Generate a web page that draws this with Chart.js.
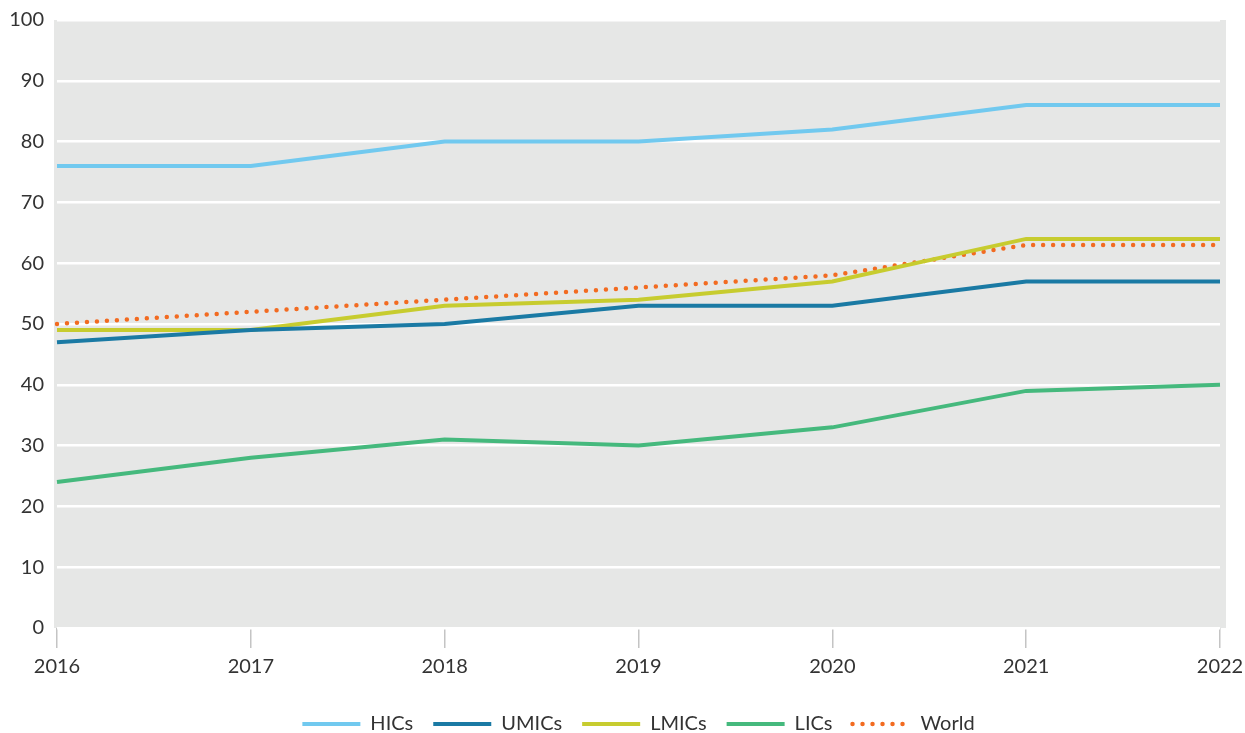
<!DOCTYPE html>
<html>
<head>
<meta charset="utf-8">
<script src="https://cdn.jsdelivr.net/npm/chart.js@4"></script>
<style>
  html, body { margin: 0; padding: 0; background: #fff; }
  #wrap { width: 1245px; height: 733px; }
</style>
</head>
<body>
<div id="wrap"><canvas id="myChart" width="1245" height="733"></canvas></div>
<script>
  // chart data
  const years = ['2016', '2017', '2018', '2019', '2020', '2021', '2022'];
  const hics = [76, 76, 80, 80, 82, 86, 86];
  const umics = [47, 49, 50, 53, 53, 57, 57];
  const lmics = [49, 49, 53, 54, 57, 64, 64];
  const lics = [24, 28, 31, 30, 33, 39, 40];
  const world = [50, 52, 54, 56, 58, 63, 63];
  const yTicks = [0, 10, 20, 30, 40, 50, 60, 70, 80, 90, 100];

  const fontFamily = 'Lato, "Open Sans", sans-serif';
  const textColor = '#333333';

  // grey panel behind the plot, a little wider than the data range
  const plotBackground = {
    id: 'plotBackground',
    beforeDraw(chart) {
      const area = chart.chartArea;
      const ctx = chart.ctx;
      ctx.save();
      ctx.fillStyle = '#e6e7e6';
      ctx.fillRect(area.left - 3, area.top, area.right - area.left + 9, area.bottom - area.top);
      ctx.restore();
    }
  };

  function lineSet(label, data, color) {
    return {
      label: label,
      data: data,
      borderColor: color,
      backgroundColor: color,
      borderWidth: 4,
      pointRadius: 0,
      tension: 0,
      fill: false
    };
  }

  const worldSet = lineSet('World', world, '#f26b21');
  worldSet.borderDash = [0, 10];
  worldSet.borderCapStyle = 'round';
  worldSet.borderWidth = 4.5;

  // legend entries: keep the line width and the dotted style of each dataset
  function legendLabels(chart) {
    const items = Chart.defaults.plugins.legend.labels.generateLabels(chart);
    items.forEach(item => {
      const ds = chart.data.datasets[item.datasetIndex];
      item.lineWidth = ds.borderWidth;
      item.lineDash = ds.borderDash || [];
      item.lineCap = ds.borderCapStyle || 'butt';
      item.strokeStyle = ds.borderColor;
    });
    return items;
  }

  const ctx = document.getElementById('myChart').getContext('2d');
  new Chart(ctx, {
    type: 'line',
    data: {
      labels: years,
      datasets: [
        lineSet('HICs', hics, '#71c9ef'),
        lineSet('UMICs', umics, '#1a7aa4'),
        lineSet('LMICs', lmics, '#c7cc2f'),
        lineSet('LICs', lics, '#45b97d'),
        worldSet
      ]
    },
    options: {
      responsive: false,
      animation: false,
      layout: { padding: { left: 0, right: 25, top: 20, bottom: -11 } },
      scales: {
        x: {
          offset: false,
          grid: {
            drawOnChartArea: false,
            drawTicks: true,
            tickLength: 20,
            color: '#c4c4c4',
            lineWidth: 1.5
          },
          border: { display: false },
          ticks: {
            padding: 7,
            color: textColor,
            font: { family: fontFamily, size: 20 },
            maxRotation: 0
          },
          afterFit: function(scale) {
            scale.height = 66;
            scale.paddingLeft = 0;
            scale.paddingRight = 0;
          }
        },
        y: {
          min: 0,
          max: 100,
          afterBuildTicks: function(scale) {
            scale.ticks = yTicks.map(v => ({ value: v }));
          },
          grid: {
            color: '#ffffff',
            lineWidth: 2.5,
            drawTicks: false
          },
          border: { display: false },
          ticks: {
            padding: 13,
            color: textColor,
            font: { family: fontFamily, size: 20 }
          },
          afterFit: function(scale) {
            scale.width = 57;
            scale.paddingTop = 0;
            scale.paddingBottom = 0;
          }
        }
      },
      plugins: {
        legend: {
          position: 'bottom',
          fullSize: false,
          labels: {
            usePointStyle: true,
            pointStyle: 'line',
            pointStyleWidth: 58,
            boxWidth: 58,
            boxHeight: 4,
            padding: 20,
            color: textColor,
            font: { family: fontFamily, size: 20 },
            generateLabels: legendLabels
          }
        },
        tooltip: { enabled: false }
      }
    },
    plugins: [plotBackground]
  });
</script>
</body>
</html>
